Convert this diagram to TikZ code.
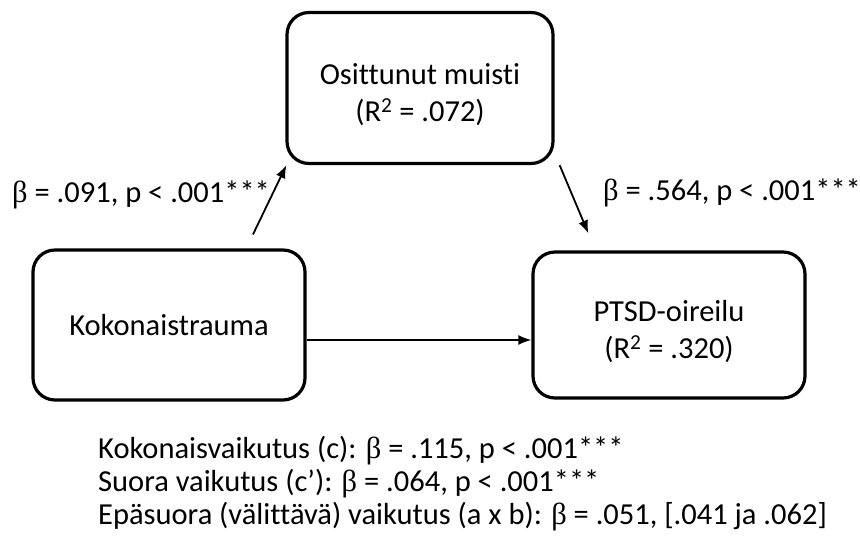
\documentclass[tikz,border=0pt]{standalone}
\usepackage{fontspec}
\setmainfont{Carlito}[Ligatures=NoCommon]
\newfontfamily\betafont{Liberation Serif}
\usetikzlibrary{arrows.meta}
\newcommand{\bet}{{\betafont β}}
\newcommand{\topstrut}{\rule{0pt}{34pt}}
\tikzset{
  box/.style={draw, line width=3.2pt, rounded corners=22pt, align=center, font=\fontsize{30.5}{37}\selectfont},
  arr/.style={line width=1.8pt, -{Latex[length=13pt,width=10pt]}},
  lab/.style={font=\fontsize{30.5}{36}\selectfont, inner sep=0pt},
}
\begin{document}
\begin{tikzpicture}[x=1pt,y=-1pt]
\useasboundingbox (0,0) rectangle (860,550);
\node[box, minimum width=266pt, minimum height=151pt] (T) at (420,88) {\topstrut Osittunut muisti\\(R\textsuperscript{2} = .072)};
\node[box, minimum width=272pt, minimum height=150pt] (L) at (169,325) {Kokonaistrauma};
\node[box, minimum width=272pt, minimum height=146pt] (R) at (669,325) {\topstrut PTSD-oireilu\\(R\textsuperscript{2} = .320)};
\draw[arr] ([shift={(84,-14)}]L.north) -- ([shift={(1,0)}]T.south west);
\draw[arr] ([shift={(5,0)}]T.south east) -- ([shift={(57,-17)}]R.north west);
\draw[arr] ([yshift=-15pt]L.east) -- ([yshift=-15pt]R.west);
\node[lab, anchor=west] (la) at (12,195) {\bet{} = .091, p < .001***};
\node[lab, anchor=west] (lb) at (603,193) {\bet{} = .564, p < .001***};
\node[lab, anchor=west] (s1) at (98,451) {Kokonaisvaikutus (c): \bet{} = .115, p < .001***};
\node[lab, anchor=west] (s2) at (98,484) {Suora vaikutus (c’): \bet{} = .064, p < .001***};
\node[lab, anchor=west] (s3) at (98,517) {Epäsuora (välittävä) vaikutus (a x b): \bet{} = .051, [.041 ja .062]};
\end{tikzpicture}
\end{document}
